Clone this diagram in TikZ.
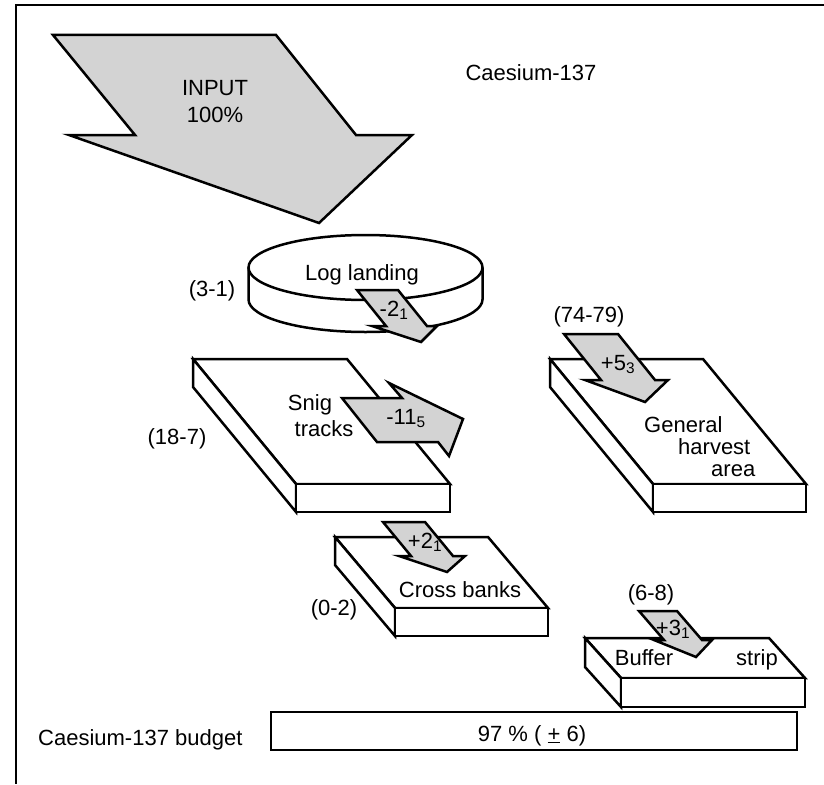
\documentclass[tikz,border=0pt]{standalone}
\usepackage{fontspec}
\setmainfont{Liberation Sans}
\definecolor{fluxgray}{RGB}{211,211,211}

\begin{document}
\begin{tikzpicture}[x=1pt, y=-1pt,
  every node/.style={font=\fontsize{22pt}{26pt}\selectfont, inner sep=0pt},
  lbl/.style={anchor=base},
  lblw/.style={anchor=base west},
  slab/.style={draw, fill=white, line width=2.5pt, line join=miter},
  flux/.style={draw, fill=fluxgray, line width=2.5pt, line join=miter}]
\useasboundingbox (0,0) rectangle (824,784);

% frame
\draw[line width=2.5pt] (824,5) -- (16,5) -- (16,784);
\node[lbl] (title) at (531,80) {Caesium-137};

% input
\draw[flux] (53,35) -- (276,35) -- (356,135) -- (412,135) -- (319,223) -- (69,135) -- (135,135) -- cycle;
\node[lbl] (input) at (215,95) {INPUT};
\node[lbl] (inpct) at (215,122) {100\%};

% log landing
\draw[slab] (248.5,267.5) -- (248.5,299.5) arc[start angle=180, end angle=360, x radius=117pt, y radius=32.5pt] -- (482.5,267.5);
\draw[slab] (365.5,267.5) ellipse[x radius=117pt, y radius=32.5pt];
\node[lbl] (landing) at (362,280) {Log landing};
\node[lbl] (landval) at (212,296) {(3-1)};

% snig tracks
\draw[slab] (193,359) -- (347,359) -- (450,484) -- (296,484) -- cycle;
\draw[slab] (193,359) -- (193,387) -- (296,512) -- (296,484) -- cycle;
\draw[slab] (296,484) rectangle (450,512);
\node[lbl] (snig) at (310,410) {Snig};
\node[lbl] (tracks) at (324,436) {tracks};
\node[lbl] (snigval) at (177,444) {(18-7)};

% general harvest area
\draw[slab] (550,359) -- (703,359) -- (806,484) -- (653,484) -- cycle;
\draw[slab] (550,359) -- (550,387) -- (653,512) -- (653,484) -- cycle;
\draw[slab] (653,484) rectangle (806,512);
\node[lblw] (general) at (644,432) {General};
\node[lblw] (harvest) at (678,454) {harvest};
\node[lblw] (area) at (711,476) {area};
\node[lbl] (harvval) at (589,322) {(74-79)};

% cross banks
\draw[slab] (335,537) -- (488,537) -- (548,608) -- (395,608) -- cycle;
\draw[slab] (335,537) -- (335,565) -- (395,636) -- (395,608) -- cycle;
\draw[slab] (395,608) rectangle (548,636);
\node[lbl] (cross) at (460,597) {Cross banks};
\node[lbl] (crossval) at (334,615) {(0-2)};

% buffer strip
\draw[slab] (585,638) -- (769,638) -- (805,678) -- (621,678) -- cycle;
\draw[slab] (585,638) -- (585,667) -- (621,707) -- (621,678) -- cycle;
\draw[slab] (621,678) rectangle (805,707);
\node[lbl] (buffer) at (644,665) {Buffer};
\node[lbl] (strip) at (757,665) {strip};
\node[lbl] (bufval) at (651,600) {(6-8)};

% transfers
\draw[flux] (357,290) -- (398,290) -- (427,326) -- (437,326) -- (421,342) -- (372,326) -- (386,326) -- cycle;
\node[lbl] (f1) at (394,316) {-2\textsubscript{1}};

\draw[flux] (342,398) -- (402,398) -- (389,383) -- (463,419) -- (449,456) -- (438,442) -- (377,442) -- cycle;
\node[lbl] (f2) at (406,424) {-11\textsubscript{5}};

\draw[flux] (564,334) -- (618,334) -- (655,380) -- (668,380) -- (645,402) -- (585,380) -- (601,380) -- cycle;
\node[lbl] (f3) at (618,370) {+5\textsubscript{3}};

\draw[flux] (383,522) -- (425,522) -- (453,556) -- (465,556) -- (447,572) -- (399,556) -- (411,556) -- cycle;
\node[lbl] (f4) at (425,548) {+2\textsubscript{1}};

\draw[flux] (639,611) -- (677,611) -- (702,640) -- (712,640) -- (696,657) -- (654,640) -- (664,640) -- cycle;
\node[lbl] (f5) at (673,635) {+3\textsubscript{1}};

% budget
\draw[slab] (271,712) rectangle (797,750);
\node[lbl] (budget) at (532,741) {97 \% ( \underline{+} 6)};
\node[lblw] (budlbl) at (38,745) {Caesium-137 budget};
\end{tikzpicture}
\end{document}
